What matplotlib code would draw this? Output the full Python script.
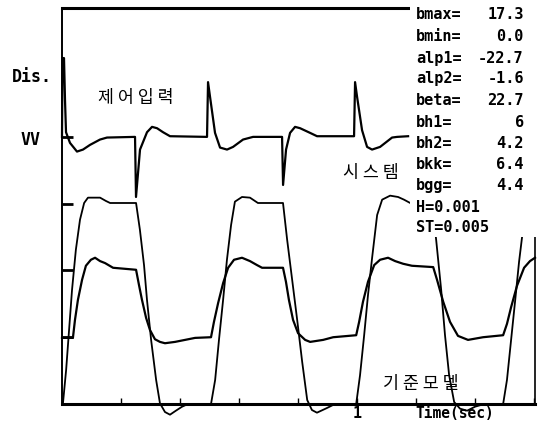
import matplotlib
matplotlib.use("Agg")
import matplotlib.pyplot as plt
from matplotlib.patches import Rectangle

# ---------------- data (time in s, signal level in arbitrary units) -------------
# control input (제어입력)
u_t = [0.000, 0.0017, 0.0068, 0.0102, 0.0136, 0.0271, 0.0508, 0.0712, 0.0949, 0.1288,
       0.1525, 0.2475, 0.2508, 0.2644, 0.2881, 0.3051, 0.3220, 0.3424, 0.3661, 0.4915,
       0.4949, 0.5017, 0.5186, 0.5356, 0.5593, 0.5797, 0.6136, 0.6475, 0.7458, 0.7492,
       0.7593, 0.7729, 0.7898, 0.8068, 0.8407, 0.8644, 0.9898, 0.9932, 1.0000, 1.0169,
       1.0339, 1.0508, 1.0780, 1.1186, 1.1356, 1.1729]
u_v = [4.00, 5.18, 5.18, 4.55, 4.07, 3.91, 3.78, 3.81, 3.88, 3.96,
       3.99, 4.00, 3.10, 3.81, 4.07, 4.15, 4.13, 4.07, 4.01, 4.00,
       4.82, 4.60, 4.06, 3.84, 3.81, 3.85, 3.96, 4.00, 4.00, 3.28,
       3.81, 4.06, 4.15, 4.13, 4.06, 4.01, 4.01, 4.82, 4.60, 4.10,
       3.85, 3.81, 3.85, 3.99, 4.00, 4.01]

# large-swing response
a_t = [0.003, 0.014, 0.024, 0.034, 0.047, 0.061, 0.075, 0.088, 0.129, 0.149,
       0.163, 0.251, 0.264, 0.278, 0.288, 0.302, 0.319, 0.332, 0.349, 0.366,
       0.386, 0.407, 0.427, 0.505, 0.519, 0.532, 0.546, 0.559, 0.573, 0.586,
       0.610, 0.637, 0.664, 0.749, 0.763, 0.780, 0.797, 0.814, 0.831, 0.847,
       0.864, 0.898, 0.925, 0.997, 1.010, 1.024, 1.037, 1.051, 1.068, 1.085,
       1.112, 1.139, 1.159, 1.180, 1.254, 1.268, 1.285, 1.298, 1.312, 1.329,
       1.349, 1.373, 1.400, 1.431, 1.495, 1.508, 1.522, 1.536, 1.549, 1.563,
       1.576]
a_v = [0.00, 0.51, 1.11, 1.71, 2.31, 2.76, 3.01, 3.09, 3.09, 3.04,
       3.01, 3.01, 2.61, 2.08, 1.56, 0.96, 0.36, 0.01, -0.12, -0.16,
       -0.10, -0.04, 0.00, 0.00, 0.36, 0.96, 1.56, 2.16, 2.68, 3.03,
       3.10, 3.09, 3.01, 3.01, 2.46, 1.86, 1.26, 0.63, 0.06, -0.09,
       -0.13, -0.06, 0.00, 0.00, 0.43, 1.03, 1.63, 2.19, 2.83, 3.06,
       3.12, 3.10, 3.06, 3.01, 3.01, 2.46, 1.71, 1.03, 0.43, 0.03,
       -0.07, -0.10, -0.04, 0.00, 0.00, 0.36, 0.96, 1.56, 2.13, 2.64,
       2.98]

# small-swing response
b_t = [0.000, 0.037, 0.044, 0.054, 0.068, 0.081, 0.098, 0.112, 0.129, 0.146,
       0.173, 0.251, 0.261, 0.271, 0.285, 0.298, 0.315, 0.332, 0.349, 0.383,
       0.417, 0.451, 0.505, 0.515, 0.529, 0.546, 0.563, 0.583, 0.610, 0.637,
       0.661, 0.678, 0.749, 0.759, 0.769, 0.783, 0.800, 0.824, 0.841, 0.885,
       0.919, 0.997, 1.007, 1.020, 1.037, 1.058, 1.078, 1.105, 1.129, 1.156,
       1.186, 1.258, 1.271, 1.292, 1.315, 1.342, 1.376, 1.427, 1.495, 1.508,
       1.522, 1.542, 1.566, 1.586, 1.603]
b_v = [0.99, 0.99, 1.26, 1.56, 1.86, 2.07, 2.16, 2.19, 2.14, 2.11,
       2.04, 2.01, 1.78, 1.56, 1.29, 1.11, 0.97, 0.93, 0.91, 0.93,
       0.96, 0.99, 1.00, 1.23, 1.51, 1.81, 2.04, 2.16, 2.19, 2.14,
       2.08, 2.04, 2.04, 1.83, 1.56, 1.26, 1.06, 0.96, 0.93, 0.96,
       1.00, 1.03, 1.23, 1.53, 1.83, 2.08, 2.16, 2.19, 2.14, 2.10,
       2.07, 2.05, 1.86, 1.53, 1.23, 1.02, 0.96, 1.00, 1.03, 1.20,
       1.45, 1.77, 2.04, 2.14, 2.19]

param_names = ["bmax=", "bmin=", "alp1=", "alp2=", "beta=", "bh1=", "bh2=", "bkk=", "bgg="]
param_values = ["17.3", "0.0", "-22.7", "-1.6", "22.7", "6", "4.2", "6.4", "4.4"]
step_texts = ["H=0.001", "ST=0.005"]

x_ticks = [0.2, 0.4, 0.6, 0.8, 1.0, 1.2, 1.4, 1.6]
y_ticks = [1, 2, 3, 4]

# ---------------- figure -------------------------------------------------------
fig = plt.figure(figsize=(5.4, 4.28), dpi=100)
ax = fig.add_axes([62 / 540, 24 / 428, 473 / 540, 396 / 428])
ax.set_xlim(0, 1.603)
ax.set_ylim(0, 5.93)

mono = "DejaVu Sans Mono"
kr = ["Noto Sans CJK KR", "DejaVu Sans"]

ax.plot(u_t, u_v, color="black", lw=1.6, clip_on=False, solid_joinstyle="round")
ax.plot(a_t, a_v, color="black", lw=1.3, clip_on=False, solid_joinstyle="round")
ax.plot(b_t, b_v, color="black", lw=1.6, clip_on=False, solid_joinstyle="round")

for side in ["left", "bottom", "top", "right"]:
    ax.spines[side].set_color("black")
ax.spines["left"].set_linewidth(1.4)
ax.spines["bottom"].set_linewidth(2.2)
ax.spines["top"].set_linewidth(2.2)
ax.spines["right"].set_linewidth(1.2)

ax.set_xticks(x_ticks)
ax.set_yticks(y_ticks)
ax.tick_params(axis="x", direction="in", length=4, width=1, labelbottom=False)
ax.tick_params(axis="y", direction="in", length=8, width=2, labelleft=False)

# white panel behind the parameter list
ax.add_patch(Rectangle((1.18, 2.50), 0.5, 3.7, facecolor="white", edgecolor="none",
                       zorder=3, clip_on=False))

row_y = [5.83, 5.51, 5.18, 4.87, 4.55, 4.22, 3.90, 3.59, 3.27]
for name, val, yy in zip(param_names, param_values, row_y):
    ax.text(1.200, yy, name, family=mono, weight="bold", fontsize=11,
            ha="left", va="center", zorder=4, clip_on=False)
    ax.text(1.565, yy, val, family=mono, weight="bold", fontsize=11,
            ha="right", va="center", zorder=4, clip_on=False)
for txt, yy in zip(step_texts, [2.95, 2.64]):
    ax.text(1.200, yy, txt, family=mono, weight="bold", fontsize=11,
            ha="left", va="center", zorder=4, clip_on=False)

ax.text(-0.102, 4.90, "Dis.", family=mono, weight="bold", fontsize=12,
        ha="center", va="center", clip_on=False)
ax.text(-0.105, 3.96, "VV", family=mono, weight="bold", fontsize=12,
        ha="center", va="center", clip_on=False)
ax.text(0.251, 4.58, "제 어 입 력", family=kr, fontsize=12.5,
        ha="center", va="center")
ax.text(1.047, 3.46, "시 스 템", family=kr, fontsize=12.5,
        ha="center", va="center")
ax.text(1.217, 0.30, "기 준 모 델", family=kr, fontsize=12.5,
        ha="center", va="center")

ax.text(1.0, -0.14, "1", family=mono, weight="bold", fontsize=11,
        ha="center", va="center", clip_on=False)
ax.text(1.332, -0.14, "Time(sec)", family=mono, weight="bold", fontsize=10.5,
        ha="center", va="center", clip_on=False)

fig.savefig("out.png", dpi=100, facecolor="white")
